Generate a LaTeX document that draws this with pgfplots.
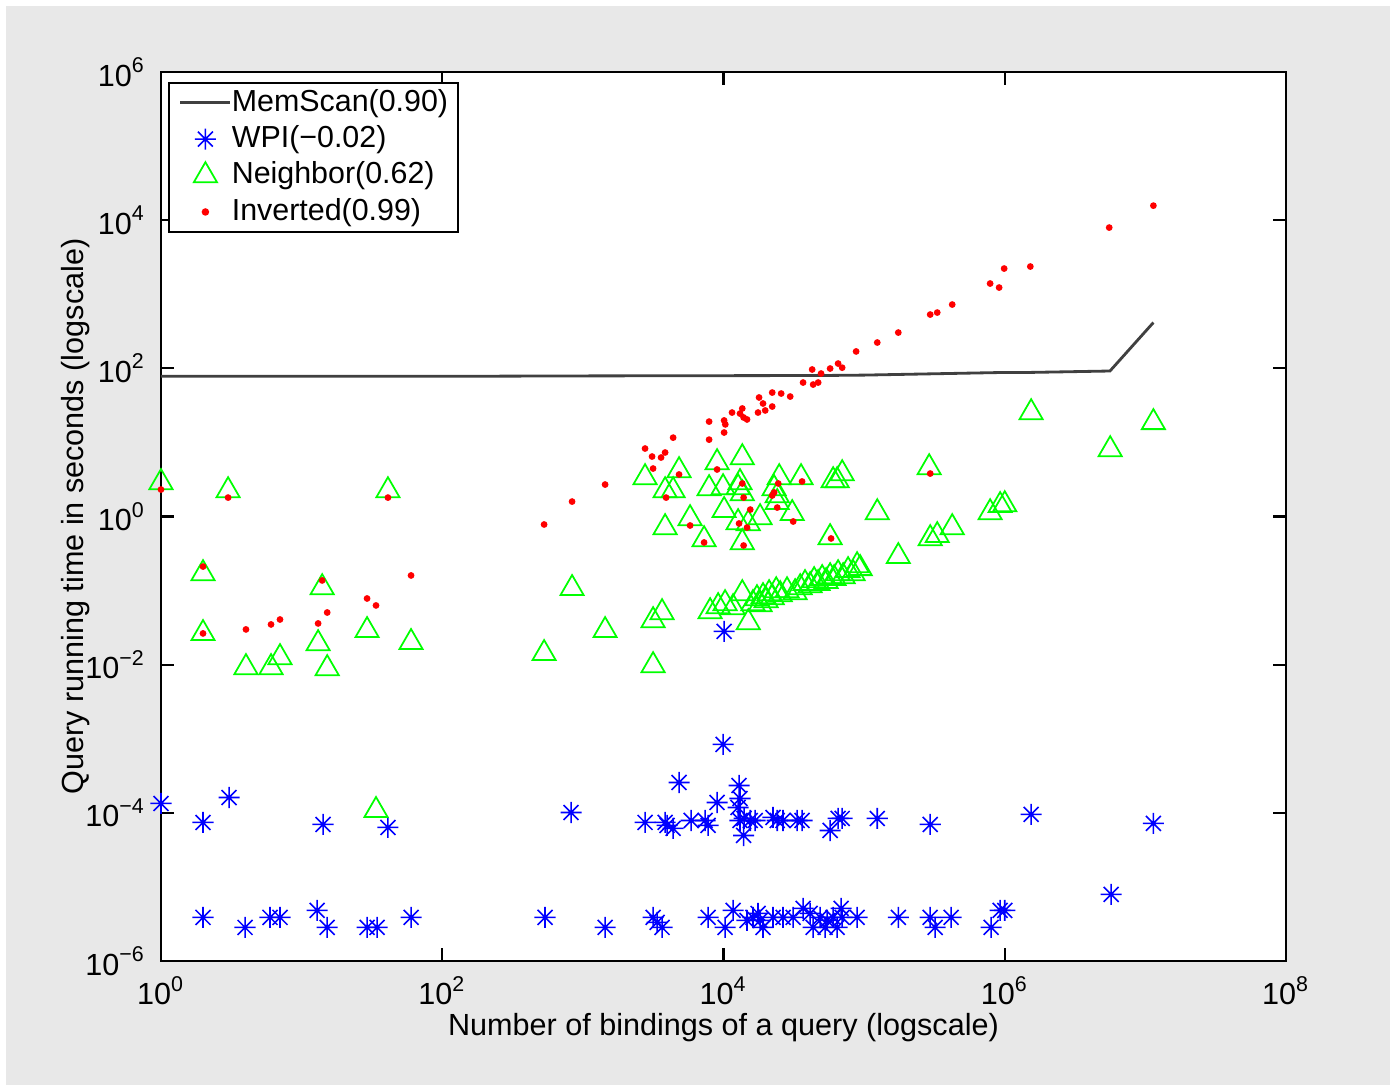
\documentclass[border=0pt]{standalone}
\usepackage{pgfplots}
\pgfplotsset{compat=1.18}
\usepackage{fontspec}
\setmainfont{Liberation Sans}

\definecolor{bggray}{RGB}{232,232,232}
\definecolor{mblue}{RGB}{0,0,255}
\definecolor{mgreen}{RGB}{0,255,0}
\definecolor{mred}{RGB}{255,0,0}

% MATLAB style asterisk: plus and cross on top of each other
\pgfdeclareplotmark{mstar}{%
  \pgfpathmoveto{\pgfqpoint{-\pgfplotmarksize}{0pt}}%
  \pgfpathlineto{\pgfqpoint{\pgfplotmarksize}{0pt}}%
  \pgfpathmoveto{\pgfqpoint{0pt}{-\pgfplotmarksize}}%
  \pgfpathlineto{\pgfqpoint{0pt}{\pgfplotmarksize}}%
  \pgfpathmoveto{\pgfqpoint{-0.7071\pgfplotmarksize}{-0.7071\pgfplotmarksize}}%
  \pgfpathlineto{\pgfqpoint{0.7071\pgfplotmarksize}{0.7071\pgfplotmarksize}}%
  \pgfpathmoveto{\pgfqpoint{-0.7071\pgfplotmarksize}{0.7071\pgfplotmarksize}}%
  \pgfpathlineto{\pgfqpoint{0.7071\pgfplotmarksize}{-0.7071\pgfplotmarksize}}%
  \pgfusepathqstroke}

\pgfplotsset{
  linelegend/.style={legend image code/.code={\draw[##1] (0cm,0cm) -- (0.5cm,0cm);}},
  marklegend/.style={legend image code/.code={
      \path[draw=none, fill=none] (0cm,-0.1cm) rectangle (0.5cm,0.1cm);
      \draw[##1] plot coordinates {(0.25cm,0cm)};}},
}

\begin{document}
\begin{tikzpicture}
\fill[white] (-1.61,-1.28) rectangle (12.34,9.61);
\fill[bggray] (-1.55,-1.24) rectangle (12.29,9.55);
\begin{axis}[
    at={(0,0)}, anchor=south west,
    width=11.25cm, height=8.89cm, scale only axis,
    xmode=log, ymode=log,
    xmin=1, xmax=1e8, ymin=1e-6, ymax=1e6,
    axis background/.style={fill=white},
    axis line style={black, line width=0.6pt},
    clip=false,
    font=\fontsize{8.7}{10}\selectfont,
    xtick={1,1e2,1e4,1e6,1e8},
    xticklabels={10\textsuperscript{0},10\textsuperscript{2},10\textsuperscript{4},10\textsuperscript{6},10\textsuperscript{8}},
    ytick={1e-6,1e-4,1e-2,1,1e2,1e4,1e6},
    yticklabels={10\textsuperscript{−6},10\textsuperscript{−4},10\textsuperscript{−2},10\textsuperscript{0},10\textsuperscript{2},10\textsuperscript{4},10\textsuperscript{6}},
    minor xtick={}, minor ytick={},
    major tick length=0.13cm,
    tick style={black, line width=0.6pt},
    xticklabel style={yshift=-0.03cm},
    yticklabel style={xshift=-0.03cm},
    xlabel={Number of bindings of a query (logscale)},
    ylabel={Query running time in seconds (logscale)},
    x label style={at={(axis description cs:0.5,-0.0745)}, anchor=center},
    y label style={at={(axis description cs:-0.0756,0.5)}, anchor=center},
    legend cell align=left,
    legend style={at={(0.0062,0.9888)}, anchor=north west, draw=black,
        line width=0.6pt, fill=white, font=\fontsize{8.65}{10}\selectfont,
        inner xsep=0.1cm, inner ysep=0.06cm, row sep=2.6pt,
        nodes={inner sep=0pt},
        /tikz/every even column/.append style={column sep=0.04cm}},
]

\addplot[black!75, line width=0.8pt, linelegend]
coordinates {
(1,78)(100,78)(1000,79)(5e4,80)(1e5,81)(1e6,88)(1.5e6,88)(5.6e6,92)(1.14e7,415)
};
\addlegendentry{MemScan(0.90)}

\addplot[only marks, mark=mstar, mark size=3pt, mblue, line width=0.45pt, marklegend]
coordinates {
(1,1.34e-4)(1.99,7.42e-5)(3.05,1.61e-4)(14.2,6.97e-5)(41.1,6.35e-5)
(1.99,3.88e-6)(3.96,2.84e-6)(5.96,3.88e-6)(7.02,3.88e-6)(12.9,4.82e-6)
(15.2,2.84e-6)(29.2,2.84e-6)(34.4,2.84e-6)(60,3.88e-6)
(824,1.01e-4)(9930,8.38e-4)(4830,2.57e-4)(9000,1.38e-4)(12900,2.34e-4)
(13100,1.56e-4)(12700,1.18e-4)(13100,7.89e-5)(13900,4.95e-5)(14000,8.40e-5)
(15500,7.89e-5)(2768,7.42e-5)(3844,7.42e-5)(3970,6.76e-5)(4383,6.16e-5)
(5890,7.89e-5)(7400,7.89e-5)(7770,6.76e-5)(16800,7.89e-5)(22500,8.67e-5)
(24100,7.89e-5)(26500,7.89e-5)(33400,7.89e-5)(36200,7.89e-5)(57300,5.78e-5)
(65300,8.40e-5)(69800,8.40e-5)(1.24e5,8.40e-5)(2.95e5,6.97e-5)(1.54e6,9.51e-5)
(1.14e7,7.19e-5)(10100,0.0281)
(538,3.88e-6)(1439,2.84e-6)(3157,3.88e-6)(3370,3.32e-6)(3656,2.84e-6)
(7770,3.88e-6)(10260,2.84e-6)(11700,4.82e-6)(14700,3.53e-6)(16200,3.88e-6)
(17600,4.39e-6)(18200,3.53e-6)(19100,2.84e-6)(22500,3.88e-6)(26500,3.88e-6)
(31300,3.88e-6)(36800,5.13e-6)(41300,4.39e-6)(43400,2.84e-6)(48600,3.88e-6)
(54600,3.53e-6)(52800,2.84e-6)(60200,3.88e-6)(64300,2.84e-6)(68600,5.13e-6)
(69800,3.88e-6)(89100,3.88e-6)(1.75e5,3.88e-6)(2.95e5,3.88e-6)(3.2e5,2.84e-6)
(4.16e5,3.88e-6)(8.0e5,2.84e-6)(9.27e5,4.82e-6)(1.0e6,4.82e-6)(5.71e6,7.92e-6)
};
\addlegendentry{WPI(−0.02)}

\addplot[only marks, mark=triangle, mark size=3.8pt, mgreen, line width=0.5pt, marklegend]
coordinates {
(1,2.88)(3.0,2.24)(41.1,2.24)(1.99,0.170)(14.0,0.110)(1.99,0.0264)
(4.02,0.00917)(6.06,0.00917)(7.02,0.0125)(13.1,0.0193)(15.2,0.00889)
(29.2,0.0290)(60,0.0200)(33.8,1.08e-4)
(530,0.0142)(838,0.107)(1439,0.0290)(3157,0.00975)(3157,0.0395)(3656,0.0506)
(2768,3.36)(4830,4.18)(3844,2.24)(4383,2.24)(3844,0.711)(5785,0.940)
(7278,0.489)(7900,2.39)(9000,5.35)(9930,2.46)(13600,6.25)(13100,2.88)
(12700,2.46)(13600,2.04)(10100,1.21)(12700,0.830)(15000,0.805)(18200,0.969)
(13600,0.446)(24900,3.36)(22900,2.39)(24100,1.92)(24100,1.55)(30800,1.10)
(35600,3.36)(60200,3.06)(64300,3.06)(69800,3.80)(57300,0.521)(1.24e5,1.13)
(1.75e5,0.289)(2.9e5,4.58)(2.95e5,0.505)(3.31e5,0.555)(4.23e5,0.711)
(7.87e5,1.13)(9.27e5,1.41)(1.0e6,1.45)(1.54e6,25.3)(5.62e6,8.02)(1.14e7,18.6)
(89100,0.218)
(8030,0.0522)(9160,0.0610)(10260,0.0670)(11700,0.0591)(13600,0.0914)
(15000,0.0371)(16200,0.0670)(17300,0.0782)(18200,0.0649)(19100,0.0832)
(20100,0.0735)(21100,0.0914)(22200,0.0807)(23700,0.100)(25300,0.0886)
(28300,0.100)(32300,0.0942)(35100,0.110)(38000,0.125)(41300,0.117)
(44100,0.137)(47100,0.125)(50300,0.146)(53700,0.133)(57300,0.155)
(61200,0.146)(65300,0.170)(70900,0.155)(76900,0.187)(83500,0.170)(93700,0.199)
};
\addlegendentry{Neighbor(0.62)}

\addplot[only marks, mark=*, mark size=0.75pt, mred, fill=mred, marklegend]
coordinates {
(1,2.31)(3.0,1.80)(41.1,1.80)(1.99,0.211)(14.0,0.137)(60,0.160)(29.2,0.0782)
(33.8,0.0630)(15.2,0.0506)(13.1,0.0360)(7.02,0.0407)(6.06,0.0349)(4.02,0.0299)
(1.99,0.0264)
(530,0.780)(838,1.59)(1439,2.70)(2768,8.27)(3105,6.45)(3597,6.25)(3844,7.31)
(4383,11.6)(3157,4.44)
(7900,19.1)(7900,10.9)(10100,19.8)(10300,17.5)(10100,13.6)(11500,25.3)
(13100,24.5)(13600,28.7)(13900,21.7)(14700,20.4)(17600,25.3)(17900,40.4)
(19100,33.5)(19800,27.0)(22200,30.5)(22200,47.1)(25700,45.7)(29800,41.6)
(36800,64.3)(43400,60.4)(47100,64.3)(42700,96.4)(49400,85.1)(57300,99.4)
(65300,116)(69800,102)(87700,169)(1.24e5,223)(1.75e5,304)(2.95e5,532)
(3.31e5,566)(4.23e5,726)(7.87e5,1395)(9.12e5,1231)(9.9e5,2223)(1.52e6,2366)
(5.53e6,7943)(1.14e7,15700)
(4830,3.69)(3906,1.80)(5785,0.756)(7278,0.446)(9000,4.31)(13600,2.79)
(13900,1.80)(15500,1.24)(12900,0.805)(14700,0.711)(13900,0.406)(24500,2.79)
(22900,2.11)(22200,1.92)(24100,1.32)(31300,0.856)(36200,2.97)(58200,0.505)
(2.95e5,3.80)
};
\addlegendentry{Inverted(0.99)}

\end{axis}
\end{tikzpicture}
\end{document}
